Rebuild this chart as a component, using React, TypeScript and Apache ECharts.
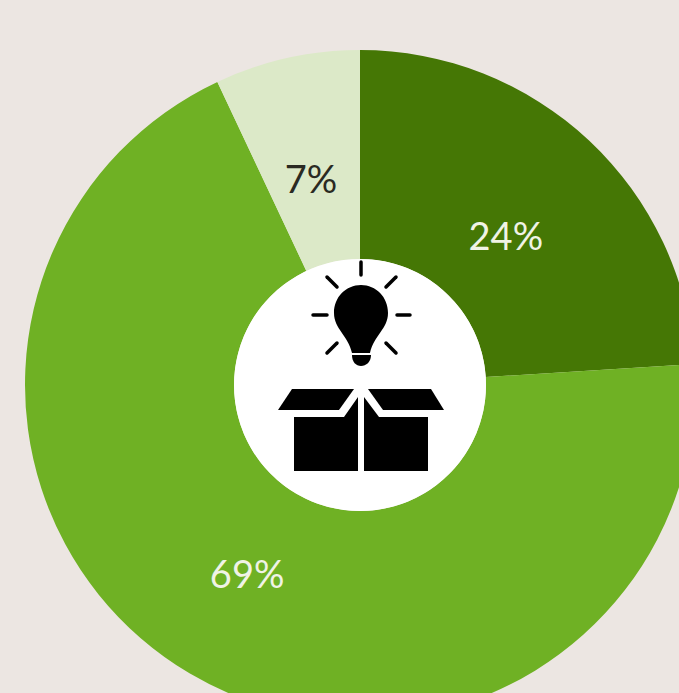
import React, { useEffect, useRef } from "react";
import * as echarts from "echarts";

const categories = ["A", "B", "C"];
const values = [24, 69, 7];
const labels = ["24%", "69%", "7%"];
const colors = ["#457705", "#6fb124", "#dce9c8"];
const labelColors = ["#f0f3e6", "#f0f3e6", "#2a2a22"];

const bulbPath = "M361 285C346 285 334 297 334 313C334 329 348 335 352 353L370 353C374 335 388 329 388 313C388 297 376 285 361 285Z";
const bulbBasePath = "M352 355L371 355C371 362 366 366 361 366C356 366 352 362 352 355Z";
echarts.graphic.registerShape("bulbShape", echarts.graphic.extendPath(bulbPath, {}) as any);
echarts.graphic.registerShape("bulbBase", echarts.graphic.extendPath(bulbBasePath, {}) as any);

const labelShift = [[-14, 20], [6, -13], [2, 21]];

export default function App() {
  const ref = useRef<HTMLDivElement>(null);
  useEffect(() => {
    const chart = echarts.init(ref.current!, null, { renderer: "svg" });
    const cx = 360, cy = 385;
    const rays: any[] = [
      [361, 262, 361, 275], [327, 277, 337, 287], [396, 277, 386, 287],
      [313, 315, 327, 315], [397, 315, 410, 315], [327, 353, 337, 343], [396, 353, 386, 343],
    ].map(([x1, y1, x2, y2]) => ({
      type: "line", shape: { x1, y1, x2, y2 }, style: { stroke: "#000", lineWidth: 3.5, lineCap: "round" }, z: 10,
    }));
    chart.setOption({
      animation: false,
      backgroundColor: "#ece6e2",
      series: [{
        type: "pie",
        center: [cx, cy],
        radius: [126, 335],
        startAngle: 90,
        clockwise: true,
        silent: true,
        itemStyle: { borderWidth: 0 },
        label: { position: "inside", fontFamily: "Lato", fontSize: 38, fontWeight: 400 },
        labelLine: { show: false },
        labelLayout: (p: any) => ({ dx: labelShift[p.dataIndex][0], dy: labelShift[p.dataIndex][1] }),
        data: categories.map((name, i) => ({
          name,
          value: values[i],
          itemStyle: { color: colors[i] },
          label: { formatter: labels[i], color: labelColors[i] },
        })),
      }],
      graphic: [
        { type: "circle", shape: { cx, cy, r: 126 }, style: { fill: "#fff" }, z: 5 },
        ...rays,
        { type: "bulbShape", style: { fill: "#000" }, z: 10 },
        { type: "bulbBase", style: { fill: "#000" }, z: 10 },
        { type: "polygon", shape: { points: [[292, 389], [354, 389], [339, 410], [278, 410]] }, style: { fill: "#000" }, z: 10 },
        { type: "polygon", shape: { points: [[368, 389], [431, 389], [444, 410], [383, 410]] }, style: { fill: "#000" }, z: 10 },
        { type: "polygon", shape: { points: [[294, 417], [344, 417], [358, 397], [358, 471], [294, 471]] }, style: { fill: "#000" }, z: 10 },
        { type: "polygon", shape: { points: [[364, 397], [379, 417], [428, 417], [428, 471], [364, 471]] }, style: { fill: "#000" }, z: 10 },
      ],
    });
    return () => chart.dispose();
  }, []);
  return <div ref={ref} style={{ position: "fixed", left: 0, top: 0, width: 679, height: 693 }} />;
}
